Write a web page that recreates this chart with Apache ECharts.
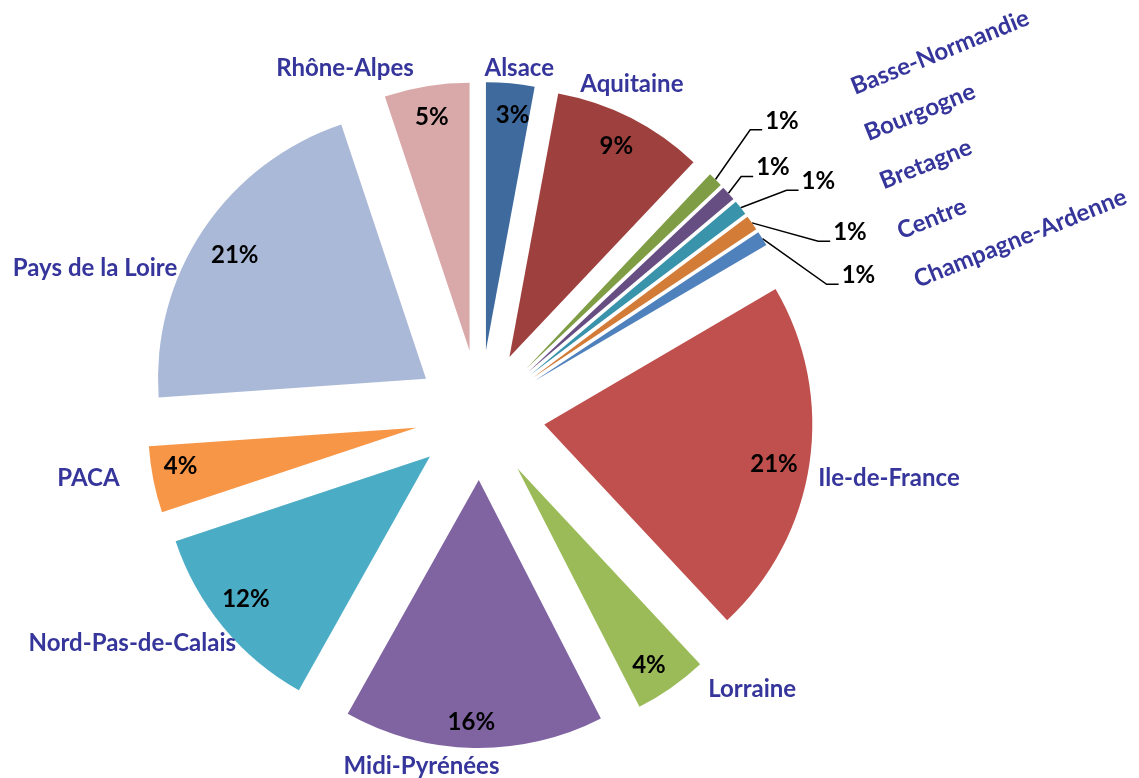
<!DOCTYPE html>
<html>
<head>
<meta charset="utf-8">
<script src="https://cdn.jsdelivr.net/npm/echarts@6/dist/echarts.min.js"></script>
<style>
  html, body { margin: 0; padding: 0; background: #fff; }
  #chart { width: 1139px; height: 778px; }
</style>
</head>
<body>
<div id="chart"></div>
<script>
// régions, sens horaire depuis midi
var regions = ['Alsace', 'Aquitaine', 'Basse-Normandie', 'Bourgogne', 'Bretagne', 'Centre',
  'Champagne-Ardenne', 'Ile-de-France', 'Lorraine', 'Midi-Pyrénées', 'Nord-Pas-de-Calais',
  'PACA', 'Pays de la Loire', 'Rhône-Alpes']
var shares = [2.9, 9.1, 0.9, 0.9, 0.9, 0.9, 0.9, 21.4, 4.4, 15.6, 11.7, 4.0, 20.9, 5.1]
var colors = ['#3F6A9E', '#9E413E', '#7E9D45', '#664E83', '#3993AB', '#D27C38', '#4F81BD',
  '#C0504D', '#9BBB59', '#8064A2', '#4BACC6', '#F79646', '#A9B9D7', '#D9A9A9']
var small = ['Basse-Normandie', 'Bourgogne', 'Bretagne', 'Centre', 'Champagne-Ardenne']

var CENTER = [480, 415]
var R = 268
var OFFSET = 65
var FONT = 'Lato'
var FONT_SIZE = 24
var NAME_COLOR = '#35359B'

// label nudges (dx, dy), by region name
var pctNudge = {
  'Alsace': [5, 0], 'Ile-de-France': [-4, 6], 'Lorraine': [-4, 4], 'Midi-Pyrénées': [-3, 6],
  'Nord-Pas-de-Calais': [-2, -8], 'PACA': [-4, -7], 'Pays de la Loire': [5, 8],
  'Basse-Normandie': [20, -46], 'Bourgogne': [-13, -28], 'Bretagne': [13, -43],
  'Centre': [29, -21], 'Champagne-Ardenne': [25, -7]
}
var nameNudge = {
  'Alsace': [-32, -3], 'Aquitaine': [-61, -23], 'Ile-de-France': [-8, 13], 'Lorraine': [25, -8],
  'Midi-Pyrénées': [31, 6], 'Nord-Pas-de-Calais': [27, 8], 'PACA': [-17, -4],
  'Pays de la Loire': [-11, 45], 'Rhône-Alpes': [-6, -6],
  'Basse-Normandie': [18, 0], 'Bourgogne': [4, 24], 'Bretagne': [-8, 50],
  'Centre': [-17, 78], 'Champagne-Ardenne': [-25, 104]
}

var chart = echarts.init(document.getElementById('chart'))

function pct(p) {
  return Math.round(p.percent) + '%'
}

var sliceData = regions.map(function (n, i) {
  return { name: n, value: shares[i], selected: true, itemStyle: { color: colors[i] } }
})

var pctData = regions.map(function (n, i) {
  var d = { name: n, value: shares[i], selected: true }
  if (small.indexOf(n) >= 0) {
    d.label = { position: 'outside' }
    d.labelLine = { show: true, length: 18, length2: 12 }
  }
  return d
})

var nameData = regions.map(function (n, i) {
  var d = { name: n, value: shares[i], selected: true }
  if (small.indexOf(n) >= 0) {
    d.label = { rotate: 22 }
    d.labelLine = { show: false, length: 120, length2: 30 }
  }
  return d
})

var base = {
  type: 'pie',
  center: CENTER,
  startAngle: 90,
  clockwise: true,
  selectedMode: 'multiple',
  selectedOffset: OFFSET,
  silent: true,
  animation: false,
  emphasis: { disabled: true }
}

chart.setOption({
  backgroundColor: '#fff',
  series: [
    Object.assign({}, base, {
      name: 'slices',
      radius: [0, R],
      label: { show: false },
      labelLine: { show: false },
      data: sliceData
    }),
    Object.assign({}, base, {
      name: 'pct',
      radius: [R * 0.74, R],
      itemStyle: { color: 'rgba(0,0,0,0)' },
      avoidLabelOverlap: true,
      label: {
        show: true,
        position: 'inside',
        formatter: pct,
        color: '#000',
        fontFamily: FONT,
        fontWeight: 'bold',
        fontSize: FONT_SIZE
      },
      labelLine: { lineStyle: { color: '#000', width: 1.5 } },
      labelLayout: function (p) {
        var nm = regions[p.dataIndex]
        var o = pctNudge[nm]
        if (!o) return {}
        var out = { dx: o[0], dy: o[1] }
        if (small.indexOf(nm) >= 0 && p.labelLinePoints) {
          // leader line: from the slice tip to the bottom-left of the moved label
          var r = p.labelRect
          var end = [r.x + o[0] - 3, r.y + r.height + o[1] - 3]
          out.labelLinePoints = [p.labelLinePoints[0], [end[0] - 12, end[1]], end]
        }
        return out
      },
      data: pctData
    }),
    Object.assign({}, base, {
      name: 'names',
      radius: [0, R],
      itemStyle: { color: 'rgba(0,0,0,0)' },
      avoidLabelOverlap: false,
      label: {
        show: true,
        position: 'outside',
        formatter: '{b}',
        color: NAME_COLOR,
        fontFamily: FONT,
        fontWeight: 'bold',
        fontSize: FONT_SIZE
      },
      labelLine: { show: false, length: 12, length2: 0 },
      labelLayout: function (p) {
        var o = nameNudge[regions[p.dataIndex]]
        return o ? { dx: o[0], dy: o[1], hideOverlap: false } : {}
      },
      data: nameData
    })
  ]
})
</script>
</body>
</html>
